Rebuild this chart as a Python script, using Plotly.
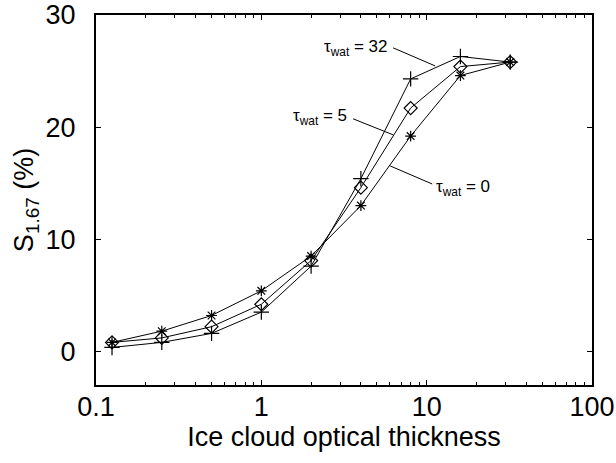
import plotly.graph_objects as go

ice_tau = [0.125, 0.25, 0.5, 1, 2, 4, 8, 16, 32]
s_wat0 = [0.8, 1.8, 3.2, 5.4, 8.5, 13.0, 19.2, 24.6, 25.8]
s_wat5 = [0.8, 1.2, 2.2, 4.2, 8.1, 14.6, 21.7, 25.4, 25.8]
s_wat32 = [0.35, 0.8, 1.6, 3.5, 7.6, 15.4, 24.3, 26.3, 25.8]

x_ticks = [0.1, 1, 10, 100]
x_tick_text = ["0.1", "1", "10", "100"]
y_ticks = [0, 10, 20, 30]

FONT = "Liberation Sans, Arial, Helvetica, sans-serif"

fig = go.Figure()
series = [
    (s_wat0, "asterisk-open", 9, "τwat = 0"),
    (s_wat5, "diamond-open", 10, "τwat = 5"),
    (s_wat32, "cross-thin-open", 11, "τwat = 32"),
]
for ys, sym, sz, name in series:
    fig.add_trace(go.Scatter(
        x=ice_tau, y=ys, mode="lines+markers", name=name,
        line=dict(color="black", width=1),
        marker=dict(symbol=sym, size=sz, color="black",
                    line=dict(color="black", width=1.2)),
        showlegend=False,
    ))

minor_vals = [m * 10.0 ** d for d in (-1, 0, 1) for m in range(2, 10)]

# invisible trace so the minor-tick overlay axis is drawn
fig.add_trace(go.Scatter(x=[0.2, 50], y=[0, 0], xaxis="x2", mode="markers",
                         marker=dict(opacity=0), hoverinfo="skip",
                         showlegend=False))

fig.update_layout(
    xaxis=dict(
        type="log", range=[-1, 2], automargin=False,
        tickmode="array", tickvals=x_ticks, ticktext=x_tick_text,
        ticks="inside", ticklen=5, tickwidth=1, tickcolor="black",
        showline=True, linewidth=2, linecolor="black", mirror="ticks",
        showgrid=False, zeroline=False,
        tickfont=dict(family=FONT, size=27, color="black"),
        ticklabelstandoff=-3,
        title=dict(text="Ice cloud optical thickness",
                   font=dict(family=FONT, size=27, color="black"), standoff=6),
    ),
    xaxis2=dict(
        type="log", range=[-1, 2], overlaying="x", anchor="y", side="bottom",
        automargin=False, matches="x",
        tickmode="array", tickvals=minor_vals, showticklabels=False,
        ticks="inside", ticklen=3, tickwidth=1, tickcolor="black",
        showline=False, mirror="ticks", showgrid=False, zeroline=False,
    ),
    yaxis=dict(
        range=[-3, 30], tickvals=y_ticks, automargin=False,
        ticks="inside", ticklen=5, tickwidth=1, tickcolor="black",
        showline=True, linewidth=2, linecolor="black", mirror="ticks",
        showgrid=False, zeroline=False,
        tickfont=dict(family=FONT, size=27, color="black"),
        ticklabelstandoff=13,
        title=dict(text="S<sub>1.67</sub> (%)",
                   font=dict(family=FONT, size=27, color="black"), standoff=4),
    ),
)

# leader lines (shapes on a log axis take data values)
leaders = [
    (6.27, 27.07, 11.25, 25.46),
    (3.59, 20.74, 6.27, 19.31),
    (6.01, 16.54, 10.8, 14.93),
]
for x0, y0, x1, y1 in leaders:
    fig.add_shape(type="line", xref="x", yref="y", x0=x0, y0=y0, x1=x1, y1=y1,
                  line=dict(color="black", width=1))

# annotation x is log10 on a log axis
labels = [
    ("τ<sub>wat</sub> = 32", 0.78, 27.1, "right"),
    ("τ<sub>wat</sub> = 5", 0.53, 20.9, "right"),
    ("τ<sub>wat</sub> = 0", 1.045, 14.6, "left"),
]
for txt, lx, ly, anc in labels:
    fig.add_annotation(text=txt, x=lx, y=ly, xref="x", yref="y",
                       xanchor=anc, yanchor="middle", showarrow=False,
                       font=dict(family=FONT, size=17, color="black"))

fig.update_layout(
    width=616, height=463,
    margin=dict(l=96, r=24, t=15, b=78),
    paper_bgcolor="white", plot_bgcolor="white",
)

fig.write_html("out.html")
